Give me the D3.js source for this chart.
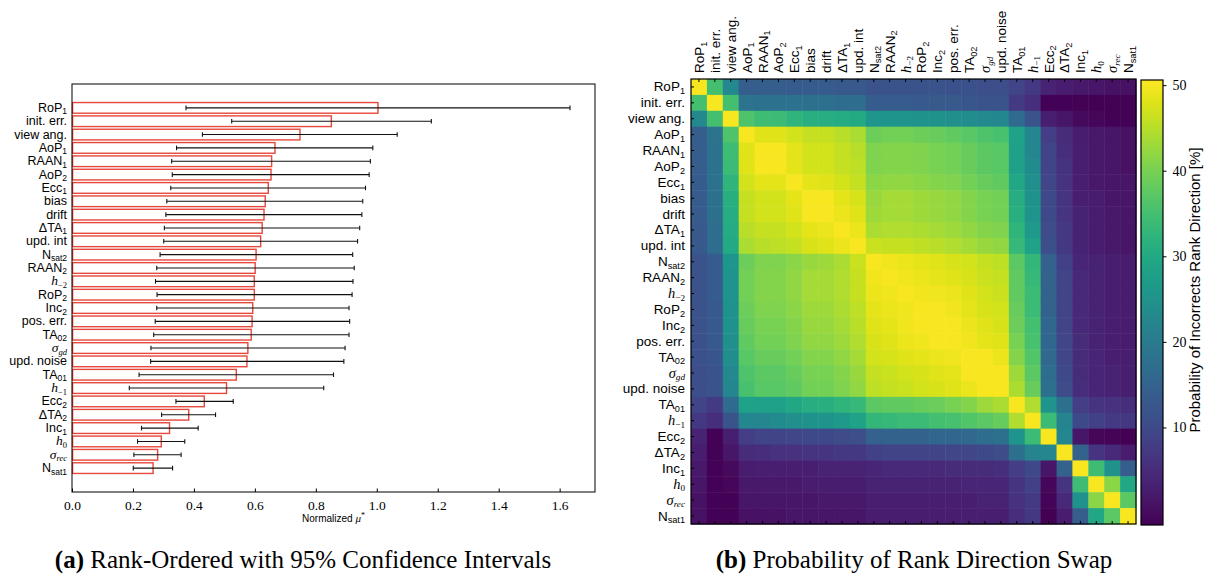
<!DOCTYPE html>
<html>
<head>
<meta charset="utf-8">
<script src="https://cdn.jsdelivr.net/npm/d3@7"></script>
<style>
  body { margin: 0; background: #fff; }
  svg { display: block; }
  .sans { font-family: "Liberation Sans", Arial, sans-serif; }
  .serif { font-family: "Liberation Serif", "Times New Roman", serif; }
</style>
</head>
<body>
<svg id="fig" width="1207" height="576"></svg>
<script>
// parameter names, "base|sub|m" (m = math italic)
const params = ["RoP|1", "init. err.", "view ang.", "AoP|1", "RAAN|1", "AoP|2", "Ecc|1", "bias", "drift",
  "ΔTA|1", "upd. int", "N|sat2", "RAAN|2", "h|−2|m", "RoP|2", "Inc|2", "pos. err.", "TA|02", "σ|gd|m",
  "upd. noise", "TA|01", "h|−1|m", "Ecc|2", "ΔTA|2", "Inc|1", "h|0|m", "σ|rec|m", "N|sat1"]

// normalized mu* and 95% confidence bounds
const muStar = [1.004, 0.851, 0.748, 0.666, 0.655, 0.653, 0.644, 0.634, 0.630, 0.624, 0.619, 0.604, 0.601, 0.598,
  0.598, 0.593, 0.591, 0.588, 0.577, 0.574, 0.539, 0.507, 0.434, 0.383, 0.320, 0.293, 0.281, 0.266]
const ciLow = [0.374, 0.524, 0.428, 0.343, 0.327, 0.329, 0.324, 0.311, 0.308, 0.303, 0.301, 0.289, 0.278, 0.274,
  0.279, 0.278, 0.273, 0.268, 0.259, 0.258, 0.220, 0.188, 0.341, 0.294, 0.228, 0.215, 0.203, 0.201]
const ciHigh = [1.634, 1.179, 1.067, 0.987, 0.979, 0.975, 0.963, 0.954, 0.951, 0.944, 0.937, 0.921, 0.926, 0.922,
  0.919, 0.909, 0.911, 0.909, 0.896, 0.892, 0.858, 0.826, 0.529, 0.471, 0.414, 0.370, 0.358, 0.330]

const xTicks = [0, 0.2, 0.4, 0.6, 0.8, 1.0, 1.2, 1.4, 1.6]
const cbTicks = [10, 20, 30, 40, 50]
const cbRange = [-1.4, 50.6]

// swap probability [%], lower triangle (row i holds columns 0..i)
const swapLower = [
  [50],
  [35, 50],
  [23, 35, 50],
  [14, 18.5, 36, 50],
  [14, 18, 34.5, 48, 50],
  [14, 18, 34, 48, 50, 50],
  [13.5, 18, 32.5, 47, 48.5, 48.5, 50],
  [13.5, 17.5, 31.5, 46, 47, 47, 48.5, 50],
  [13.5, 17.5, 31, 46, 47, 47, 48, 50, 50],
  [13, 17, 30.5, 45, 46, 46, 47, 48.5, 49, 50],
  [13, 17, 30, 44, 45, 45.5, 46, 47.5, 48, 49, 50],
  [12, 13.5, 26, 39, 40.5, 40.5, 41.5, 42.5, 43, 44, 46.5, 50],
  [12, 13.5, 25.5, 39.5, 41, 41, 42, 43.5, 43.5, 44.5, 46, 49.5, 50],
  [12, 13.5, 25.5, 39.5, 41, 41, 42, 43.5, 43.5, 44.5, 46, 49, 49.5, 50],
  [12, 13, 25, 39, 40.5, 40.5, 41.5, 43, 43, 44, 45.5, 48.5, 49, 49.5, 50],
  [12, 13, 25, 38.5, 40, 40, 41, 42.5, 42.5, 43.5, 45, 48, 48.5, 49.5, 50, 50],
  [11.5, 13, 24.5, 38, 39.5, 39.5, 40.5, 42, 42, 43, 44.5, 47.5, 48, 49, 49.5, 50, 50],
  [11.5, 12.5, 24, 37, 38.5, 38.5, 39.5, 41, 41, 42, 43.5, 47, 47.5, 48, 48.5, 49, 49.5, 50],
  [11, 12, 23, 36, 37.5, 37.5, 38.5, 40, 40, 41, 42.5, 46, 46.5, 47, 47.5, 48, 48.5, 50, 50],
  [11, 12, 22.5, 35.5, 37, 37, 38, 39.5, 39.5, 40.5, 42, 45.5, 46, 46.5, 47, 47.5, 48, 49, 50, 50],
  [9, 7.5, 16.5, 28.5, 28, 28, 29.5, 31, 31.5, 32.5, 33.5, 37.5, 38, 38, 38.5, 39, 40, 41, 43, 44, 50],
  [7, 5.5, 12, 22.5, 22.5, 23.5, 24.5, 25, 25.5, 26.5, 28.5, 33, 33.5, 34, 34, 35, 35.5, 36.5, 37.5, 38.5, 44.5, 50],
  [3.5, -1, 3, 8, 9, 9, 9.5, 10, 10, 10.5, 11, 14.5, 15, 15, 15, 15.5, 15.5, 16, 17, 17.5, 25.5, 34, 50],
  [2.5, -1, 1.5, 5, 5.5, 6, 6, 6.5, 6.5, 7, 7, 8.5, 9, 9, 9, 9, 9.5, 9.5, 10, 10.5, 17.5, 22, 22.5, 50],
  [2, -1, 0, 2.5, 3, 3, 3, 3, 3.5, 3.5, 3.5, 4, 4.5, 4.5, 4.5, 4.5, 5, 5, 5, 5.5, 8, 10, 1.5, 15, 50],
  [1.5, -1, -0.5, 2, 2, 2, 2, 2.5, 2.5, 2.5, 2.5, 3.5, 3.5, 3.5, 3.5, 3.5, 3.5, 4, 4, 4, 6.5, 8.5, -0.5, 6.5, 34.5, 50],
  [1, -1, -1, 1.5, 1.5, 1.5, 1.5, 1.5, 2, 2, 2, 3, 3, 3, 3, 3, 3, 3, 3.5, 3.5, 6, 7.5, -0.8, 4.5, 25, 41.5, 50],
  [1, -1, -1, 1, 1, 1, 1.5, 1.5, 1.5, 1.5, 1.5, 2.5, 2.5, 2.5, 2.5, 2.5, 2.5, 3, 3, 3, 5.5, 7, -1.2, 2.5, 14, 29.5, 37.5, 50]
]

const svg = d3.select("#fig")
const n = params.length

// write a label with optional subscript / math italic
function writeLabel (text, str, size) {
  const [base, sub, m] = str.split("|")
  const b = text.append("tspan").text(base)
  if (m) b.attr("font-family", "Liberation Serif, serif").attr("font-style", "italic").attr("font-size", size + 1)
  if (sub) {
    const s = text.append("tspan").text(sub)
      .attr("dy", size * 0.2)
      .attr("font-size", size * 0.68)
    if (m) s.attr("font-family", "Liberation Serif, serif").attr("font-style", /[a-z]/.test(sub) ? "italic" : "normal")
  }
}

// ---------- (a) bars with confidence intervals ----------
const pa = { left: 72, right: 595, top: 84, bottom: 492 }
const x = d3.scaleLinear().domain([0, 1.716]).range([pa.left, pa.right])
const y = d3.scaleLinear().domain([-1.79, n - 1 + 1.79]).range([pa.top, pa.bottom])
const barH = y(0.8) - y(0)

const gA = svg.append("g")

gA.selectAll(".bar")
  .data(muStar)
  .enter()
  .append("rect")
    .attr("x", x(0) + 0.6)
    .attr("y", (d, i) => y(i) - barH / 2)
    .attr("width", d => x(d) - x(0) - 0.6)
    .attr("height", barH)
    .attr("fill", "#fff")
    .attr("stroke", "#e6483b")
    .attr("stroke-width", 1.4)

const err = gA.selectAll(".err")
  .data(params)
  .enter()
  .append("g")
    .attr("stroke", "#111")
    .attr("stroke-width", 1.1)

err.append("line")
  .attr("x1", (d, i) => x(ciLow[i])).attr("x2", (d, i) => x(ciHigh[i]))
  .attr("y1", (d, i) => y(i)).attr("y2", (d, i) => y(i))
err.append("line")
  .attr("x1", (d, i) => x(ciLow[i])).attr("x2", (d, i) => x(ciLow[i]))
  .attr("y1", (d, i) => y(i) - 2.3).attr("y2", (d, i) => y(i) + 2.3)
err.append("line")
  .attr("x1", (d, i) => x(ciHigh[i])).attr("x2", (d, i) => x(ciHigh[i]))
  .attr("y1", (d, i) => y(i) - 2.3).attr("y2", (d, i) => y(i) + 2.3)

gA.append("rect")
  .attr("x", pa.left).attr("y", pa.top)
  .attr("width", pa.right - pa.left).attr("height", pa.bottom - pa.top)
  .attr("fill", "none").attr("stroke", "#000").attr("stroke-width", 1)

const xAxis = gA.append("g")
  .attr("transform", "translate(0," + pa.bottom + ")")
  .call(d3.axisBottom(x).tickValues(xTicks).tickSizeInner(-3.5).tickSizeOuter(0).tickPadding(8).tickFormat(d3.format(".1f")))
xAxis.select(".domain").remove()
xAxis.selectAll("text").attr("class", "serif").attr("font-size", 13.5).attr("fill", "#000")

gA.append("text")
  .attr("class", "sans")
  .attr("x", (pa.left + pa.right) / 2).attr("y", 522)
  .attr("text-anchor", "middle").attr("font-size", 10)
  .text("Normalized ")
  .append("tspan").attr("class", "serif").attr("font-style", "italic").attr("font-size", 11).text("μ")
  .append("tspan").attr("font-style", "normal").attr("dy", -4).attr("font-size", 8).text("*")

gA.selectAll(".ylab")
  .data(params)
  .enter()
  .append("text")
    .attr("class", "sans")
    .attr("x", 67)
    .attr("y", (d, i) => y(i) + 4)
    .attr("text-anchor", "end")
    .attr("font-size", 12.5)
    .each(function (d) { writeLabel(d3.select(this), d, 12.5) })

// ---------- (b) heatmap ----------
const hb = { left: 691, top: 79, size: 445 }
const band = d3.scaleBand().domain(d3.range(n)).range([hb.left, hb.left + hb.size])
const bandY = d3.scaleBand().domain(d3.range(n)).range([hb.top, hb.top + hb.size])
const color = d3.scaleSequential(d3.interpolateViridis).domain(cbRange)

const cells = []
swapLower.forEach((row, i) => row.forEach((v, j) => {
  cells.push({ r: i, c: j, v: v })
  if (i !== j) cells.push({ r: j, c: i, v: v })
}))

const gB = svg.append("g")
gB.selectAll(".cell")
  .data(cells)
  .enter()
  .append("rect")
    .attr("x", d => band(d.c))
    .attr("y", d => bandY(d.r))
    .attr("width", band.bandwidth() + 0.5)
    .attr("height", bandY.bandwidth() + 0.5)
    .attr("fill", d => color(d.v))

gB.append("rect")
  .attr("x", hb.left).attr("y", hb.top)
  .attr("width", hb.size).attr("height", hb.size)
  .attr("fill", "none").attr("stroke", "#000").attr("stroke-width", 1.2)

const leftAx = gB.append("g")
  .attr("transform", "translate(" + hb.left + ",0)")
  .call(d3.axisLeft(bandY).tickSizeInner(-3).tickSizeOuter(0).tickFormat(""))
leftAx.select(".domain").remove()
leftAx.selectAll(".tick")
  .append("text")
    .attr("class", "sans")
    .attr("x", -6).attr("y", 4.5)
    .attr("text-anchor", "end")
    .attr("font-size", 13.5)
    .attr("fill", "#000")
    .each(function (d) { writeLabel(d3.select(this), params[d], 13.5) })

const bottomAx = gB.append("g")
  .attr("transform", "translate(0," + (hb.top + hb.size) + ")")
  .call(d3.axisBottom(band).tickSizeInner(-3).tickSizeOuter(0).tickFormat(""))
bottomAx.select(".domain").remove()

const topAx = gB.append("g")
  .attr("transform", "translate(0," + hb.top + ")")
  .call(d3.axisTop(band).tickSizeInner(-3).tickSizeOuter(0).tickFormat(""))
topAx.select(".domain").remove()
topAx.selectAll(".tick")
  .append("text")
    .attr("class", "sans")
    .attr("transform", "translate(5,-6) rotate(-90)")
    .attr("text-anchor", "start")
    .attr("font-size", 13.5)
    .attr("fill", "#000")
    .each(function (d) { writeLabel(d3.select(this), params[d], 13.5) })

// colorbar
const cb = { left: 1141, width: 22, top: 80, bottom: 525 }
const cbScale = d3.scaleLinear().domain(cbRange).range([cb.bottom, cb.top])
const grad = svg.append("defs").append("linearGradient")
  .attr("id", "cbGrad").attr("x1", 0).attr("x2", 0).attr("y1", 1).attr("y2", 0)
grad.selectAll("stop")
  .data(d3.range(0, 1.0001, 0.05))
  .enter()
  .append("stop")
    .attr("offset", d => d)
    .attr("stop-color", d => d3.interpolateViridis(d))

gB.append("rect")
  .attr("x", cb.left).attr("y", cb.top)
  .attr("width", cb.width).attr("height", cb.bottom - cb.top)
  .attr("fill", "url(#cbGrad)").attr("stroke", "#000").attr("stroke-width", 1.2)

const cbAx = gB.append("g")
  .attr("transform", "translate(" + (cb.left + cb.width) + ",0)")
  .call(d3.axisRight(cbScale).tickValues(cbTicks).tickSizeInner(3.5).tickSizeOuter(0).tickPadding(6))
cbAx.select(".domain").remove()
cbAx.selectAll("text").attr("class", "serif").attr("font-size", 14).attr("fill", "#000")

gB.append("text")
  .attr("class", "sans")
  .attr("transform", "translate(1200,290) rotate(-90)")
  .attr("text-anchor", "middle")
  .attr("font-size", 15)
  .text("Probability of Incorrects Rank Direction [%]")

// captions
const cap = [
  { x: 303, tag: "(a)", text: " Rank-Ordered with 95% Confidence Intervals" },
  { x: 914, tag: "(b)", text: " Probability of Rank Direction Swap" }
]
svg.selectAll(".cap")
  .data(cap)
  .enter()
  .append("text")
    .attr("class", "serif")
    .attr("x", d => d.x).attr("y", 568)
    .attr("text-anchor", "middle")
    .attr("font-size", 25)
    .each(function (d) {
      d3.select(this).append("tspan").attr("font-weight", "bold").text(d.tag)
      d3.select(this).append("tspan").text(d.text)
    })
</script>
</body>
</html>
